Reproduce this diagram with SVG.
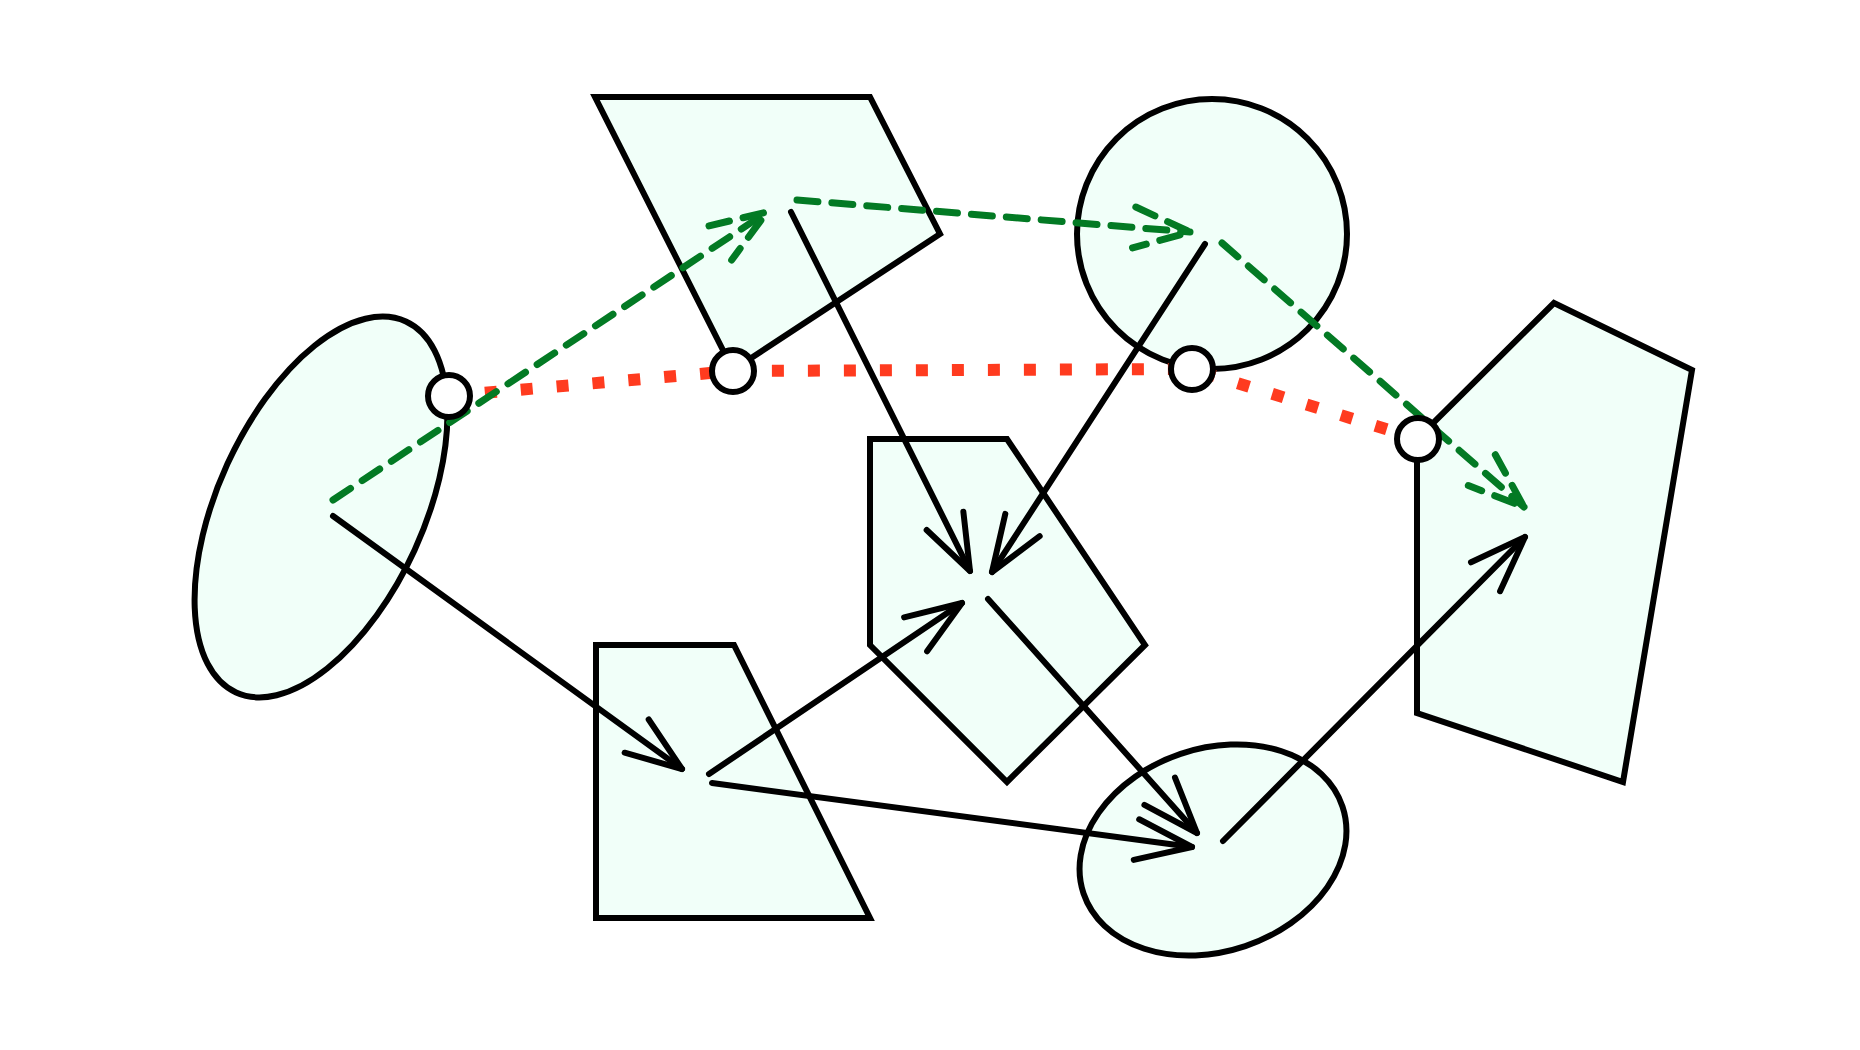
<svg xmlns="http://www.w3.org/2000/svg" width="1860" height="1050" viewBox="0 0 1860 1050">
<style>
.node{fill:#F1FFF9;stroke:#000;stroke-width:6;stroke-linejoin:miter}
.port{fill:#fff;stroke:#000;stroke-width:6}
.edge{fill:none;stroke:#000;stroke-width:6;stroke-linecap:round;stroke-linejoin:round}
.flow{fill:none;stroke:#037A24;stroke-width:7;stroke-linecap:round;stroke-linejoin:round;stroke-dasharray:21 14}
.link{fill:none;stroke:#FF3B1F;stroke-width:12;stroke-dasharray:12 24}
</style>
<defs>
<marker id="ah" markerUnits="userSpaceOnUse" orient="auto" refX="0" refY="0" markerWidth="10" markerHeight="10" overflow="visible">
<path d="M -56 -20.5 L 0 0 L -56 20.5" fill="none" stroke="#000" stroke-width="6" stroke-linecap="round" stroke-linejoin="round"/>
</marker>
<marker id="gah" markerUnits="userSpaceOnUse" orient="auto" refX="0" refY="0" markerWidth="10" markerHeight="10" overflow="visible">
<path d="M -56 -20.5 L 0 0 L -56 20.5" fill="none" stroke="#037A24" stroke-width="7" stroke-linecap="round" stroke-linejoin="round" stroke-dasharray="21 14"/>
</marker>
</defs>
<rect width="1860" height="1050" fill="#fff"/>
<g id="nodeA"><ellipse class="node" cx="321" cy="507" rx="103" ry="204" transform="rotate(24.6 321 507)"/></g>
<g id="nodeB"><polygon class="node" points="595,97 870,97 940,234 733,370"/></g>
<g id="nodeC"><circle class="node" cx="1212" cy="234" r="135"/></g>
<g id="nodeD"><polygon class="node" points="1554,303 1692,370 1623,782 1417,713 1417,439"/></g>
<g id="nodeE"><polygon class="node" points="870,439 1007,439 1145,645 1007,782 870,645"/></g>
<g id="nodeF"><polygon class="node" points="596,645 734,645 870,918 596,918"/></g>
<g id="nodeG"><ellipse class="node" cx="1213" cy="850" rx="136.6" ry="101.4" transform="rotate(-18.6 1213 850)"/></g>
<g id="connectors">
<polyline class="link" points="449,396 733,371 1192,369 1418,439"/>
<line class="flow" x1="333" y1="500" x2="767" y2="212" marker-end="url(#gah)"/>
<line class="flow" x1="797" y1="200" x2="1190" y2="232" marker-end="url(#gah)"/>
<line class="flow" x1="1222" y1="243" x2="1524" y2="507" marker-end="url(#gah)"/>
<line class="edge" x1="333" y1="516" x2="682" y2="769" marker-end="url(#ah)"/>
<line class="edge" x1="709" y1="774" x2="962" y2="603" marker-end="url(#ah)"/>
<line class="edge" x1="712" y1="783" x2="1192" y2="847" marker-end="url(#ah)"/>
<line class="edge" x1="791" y1="212" x2="970" y2="571" marker-end="url(#ah)"/>
<line class="edge" x1="1205" y1="244" x2="992" y2="572" marker-end="url(#ah)"/>
<line class="edge" x1="988" y1="599" x2="1197" y2="833" marker-end="url(#ah)"/>
<line class="edge" x1="1223" y1="841" x2="1525" y2="537" marker-end="url(#ah)"/>
</g>
<g id="ports">
<circle class="port" cx="449" cy="396" r="21"/>
<circle class="port" cx="733" cy="371" r="21"/>
<circle class="port" cx="1192" cy="369" r="21"/>
<circle class="port" cx="1418" cy="439" r="21"/>
</g>
</svg>
